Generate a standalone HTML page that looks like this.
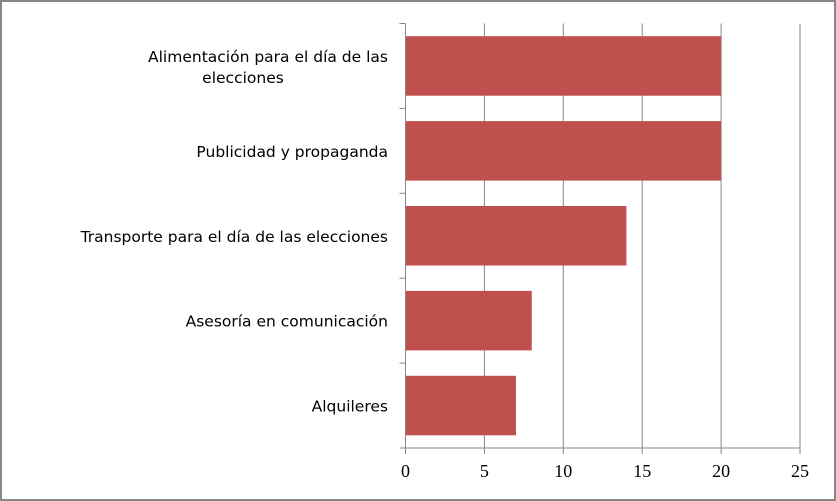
<!DOCTYPE html>
<html><head><meta charset="utf-8"><style>
html,body{margin:0;padding:0;background:#fff;}
svg{display:block;}
</style></head><body>
<svg id="chart" width="836" height="501" xmlns="http://www.w3.org/2000/svg">
<rect x="1" y="1" width="834" height="499" fill="#fff" stroke="#868686" stroke-width="2"/>
<g id="grid"></g>
<g id="bars"></g>
<g id="axes"></g>
<g id="labels"></g>
</svg>
<script>
const categories = ["Alimentación para el día de las|elecciones", "Publicidad y propaganda", "Transporte para el día de las elecciones", "Asesoría en comunicación", "Alquileres"];
const values = [20, 20, 14, 8, 7];
const xTicks = [0, 5, 10, 15, 20, 25];

const NS = "http://www.w3.org/2000/svg";
const x0 = 405.5, x1 = 800, y0 = 23.5, y1 = 448, xMax = 25;
const xs = v => x0 + (v / xMax) * (x1 - x0);
const band = (y1 - y0) / categories.length;
function mk(tag, attrs, parent) {
  const e = document.createElementNS(NS, tag);
  for (const k in attrs) e.setAttribute(k, attrs[k]);
  document.getElementById(parent).appendChild(e);
  return e;
}
xTicks.forEach((t, i) => {
  if (t > 0) {
    const g = mk("line", {x1: xs(t), x2: xs(t), y1: y0, y2: y1, stroke: "#868686", "stroke-width": 1}, "grid");
    
    
  }
  const tk = mk("line", {x1: xs(t), x2: xs(t), y1: y1, y2: y1 + 6, stroke: "#868686", "stroke-width": 1}, "axes");
  
  
  const tl = mk("text", {x: xs(t), y: 477, "text-anchor": "middle", "font-family": "Liberation Serif, serif", "font-size": 18, fill: "#000"}, "labels");
  tl.textContent = t;
  
  
});
const xa = mk("line", {x1: x0 - 6, x2: x1, y1: y1, y2: y1, stroke: "#868686", "stroke-width": 1}, "axes");


const ya = mk("line", {x1: x0, x2: x0, y1: y0, y2: y1, stroke: "#868686", "stroke-width": 1}, "axes");


for (let i = 0; i <= categories.length; i++) {
  const yt = mk("line", {x1: x0 - 6, x2: x0, y1: y0 + i * band, y2: y0 + i * band, stroke: "#868686", "stroke-width": 1}, "axes");
  
  
}
categories.forEach((c, i) => {
  const top = y0 + i * band + 12.7;
  const h = band - 25.4;
  const b = mk("rect", {x: x0, y: top, width: xs(values[i]) - x0, height: h, fill: "#c0504d"}, "bars");
  
  
  const parts = c.split("|");
  const cy = y0 + (i + 0.5) * band;
  if (parts.length === 1) {
    const t = mk("text", {x: 388, y: cy + 6, "text-anchor": "end", "font-family": "DejaVu Sans, sans-serif", "font-size": 15.5, fill: "#000"}, "labels");
    t.textContent = parts[0];
    
    
  } else {
    const t = mk("text", {x: 388, y: cy - 4, "text-anchor": "end", "font-family": "DejaVu Sans, sans-serif", "font-size": 15.5, fill: "#000"}, "labels");
    t.textContent = parts[0];
    
    
    const t2 = mk("text", {x: 243, y: cy + 17, "text-anchor": "middle", "font-family": "DejaVu Sans, sans-serif", "font-size": 15.5, fill: "#000"}, "labels");
    t2.textContent = parts[1];
    
    
  }
});
</script>
</body></html>
